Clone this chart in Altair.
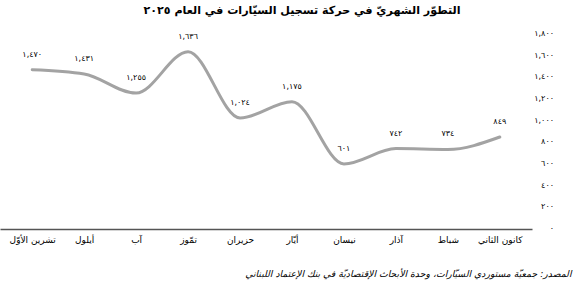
import altair as alt
import pandas as pd

# Data (January .. October 2025)
months = ["كانون الثاني", "شباط", "آذار", "نيسان", "أيّار", "حزيران",
          "تمّوز", "آب", "أيلول", "تشرين الأوّل"]
registrations = [849, 734, 742, 601, 1175, 1024, 1636, 1255, 1431, 1470]

y_ticks = [0, 200, 400, 600, 800, 1000, 1200, 1400, 1600, 1800]

title_text = "التطوّر الشهريّ في حركة تسجيل السيّارات في العام ٢٠٢٥"
source_text = "المصدر: جمعيّة مستوردي السيّارات، وحدة الأبحاث الإقتصاديّة في بنك الإعتماد اللبناني"

AR_DIGITS = str.maketrans("0123456789", "٠١٢٣٤٥٦٧٨٩")


def to_ar(n):
    return f"{n:,}".translate(AR_DIGITS)


df = pd.DataFrame({
    "month": months,
    "value": registrations,
    "label": [to_ar(v) for v in registrations],
})

ticks_df = pd.DataFrame({
    "value": y_ticks,
    "label": [to_ar(t) for t in y_ticks],
})

x_order = list(reversed(months))

FONT = "DejaVu Sans"

x_enc = alt.X(
    "month:N",
    sort=x_order,
    scale=alt.Scale(type="point", domain=x_order, padding=0.62),
    axis=alt.Axis(
        title=source_text,
        titleFont=FONT,
        titleFontSize=9.3,
        titleFontStyle="italic",
        titleFontWeight="normal",
        titleColor="#000000",
        titleAnchor="end",
        titleAlign="right",
        titleX=571,
        titleY=44,
        titleBaseline="middle",
        labelAngle=0,
        labelFont=FONT,
        labelFontSize=9,
        labelColor="#000000",
        labelPadding=6,
        ticks=False,
        domainColor="#555555",
        domainWidth=1.5,
        grid=False,
    ),
)

y_scale = alt.Scale(domain=[0, 1800], nice=False)

base = alt.Chart(df).encode(
    x=x_enc,
    y=alt.Y("value:Q", scale=y_scale, axis=None),
)

line = base.mark_line(
    interpolate="monotone", color="#a3a3a3", strokeWidth=3, strokeCap="round"
)

labels = base.mark_text(
    dy=-15, font=FONT, fontSize=8, color="#000000", baseline="middle"
).encode(text="label:N")

y_labels = alt.Chart(ticks_df).mark_text(
    font=FONT, fontSize=8, color="#000000", align="right", baseline="middle"
).encode(
    x=alt.value(554),
    y=alt.Y("value:Q", scale=y_scale, axis=None),
    text="label:N",
)

chart = (
    alt.layer(line, labels, y_labels)
    .properties(
        width=532,
        height=195,
        background="white",
        title=alt.TitleParams(
            text=title_text,
            font=FONT,
            fontSize=11.1,
            fontWeight="bold",
            color="#000000",
            anchor="middle",
            dx=36,
            offset=14,
        ),
        padding={"left": 0, "top": 34, "right": 43, "bottom": 61},
        autosize="none",
    )
    .configure_view(strokeWidth=0)
)

chart.save("out.html", embed_options={"renderer": "svg", "actions": False})
